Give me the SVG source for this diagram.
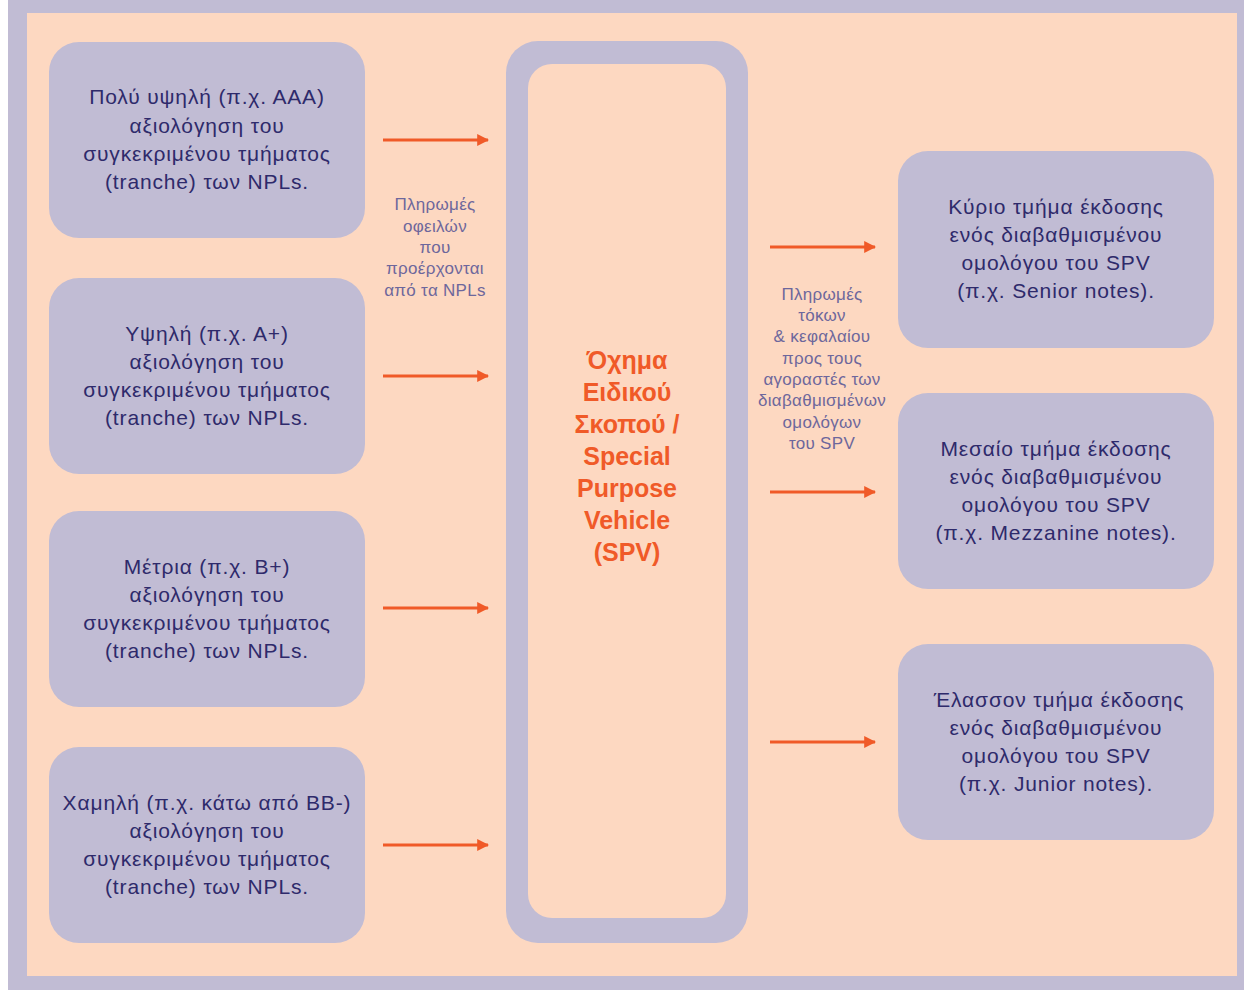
<svg xmlns="http://www.w3.org/2000/svg" width="1244" height="990" viewBox="0 0 1244 990">
<style>
.node{fill:#c1bcd4}
.t{font-family:"Liberation Sans",Arial,sans-serif;font-size:21px;letter-spacing:0.85px;fill:#2e2a6b;text-anchor:middle}
.lbl{font-family:"Liberation Sans",Arial,sans-serif;font-size:17px;letter-spacing:0.3px;fill:#6d679c;text-anchor:middle}
.spv{font-family:"Liberation Sans",Arial,sans-serif;font-size:25px;font-weight:bold;fill:#f05a28;text-anchor:middle}
.arr{stroke:#f05a28;stroke-width:3;fill:none;marker-end:url(#ah)}
</style>
<defs>
<marker id="ah" viewBox="0 0 10 10" refX="9" refY="5" markerWidth="4" markerHeight="4" orient="auto" markerUnits="strokeWidth">
<path d="M0,0 L10,5 L0,10 z" fill="#f05a28"/>
</marker>
</defs>
<rect x="0" y="0" width="1244" height="990" fill="#ffffff"/>
<rect x="8" y="0" width="1236" height="990" fill="#c1bcd4"/>
<rect x="27" y="13" width="1210" height="963" fill="#fdd8c1"/>

<g id="n1"><rect class="node" x="49" y="42" width="316" height="196" rx="30"/>
<text class="t"><tspan x="207" y="104">Πολύ υψηλή (π.χ. ΑΑΑ)</tspan><tspan x="207" y="133">αξιολόγηση του</tspan><tspan x="207" y="161">συγκεκριμένου τμήματος</tspan><tspan x="207" y="189">(tranche) των NPLs.</tspan></text></g>
<g id="n2"><rect class="node" x="49" y="278" width="316" height="196" rx="30"/>
<text class="t"><tspan x="207" y="341">Υψηλή (π.χ. Α+)</tspan><tspan x="207" y="369">αξιολόγηση του</tspan><tspan x="207" y="397">συγκεκριμένου τμήματος</tspan><tspan x="207" y="425">(tranche) των NPLs.</tspan></text></g>
<g id="n3"><rect class="node" x="49" y="511" width="316" height="196" rx="30"/>
<text class="t"><tspan x="207" y="574">Μέτρια (π.χ. Β+)</tspan><tspan x="207" y="602">αξιολόγηση του</tspan><tspan x="207" y="630">συγκεκριμένου τμήματος</tspan><tspan x="207" y="658">(tranche) των NPLs.</tspan></text></g>
<g id="n4"><rect class="node" x="49" y="747" width="316" height="196" rx="30"/>
<text class="t"><tspan x="207" y="810">Χαμηλή (π.χ. κάτω από  ΒΒ-)</tspan><tspan x="207" y="838">αξιολόγηση του</tspan><tspan x="207" y="866">συγκεκριμένου τμήματος</tspan><tspan x="207" y="894">(tranche) των NPLs.</tspan></text></g>

<g id="spv"><rect class="node" x="506" y="41" width="242" height="902" rx="32"/>
<rect x="528" y="64" width="198" height="854" rx="24" fill="#fdd8c1"/>
<text class="spv"><tspan x="627" y="369">Όχημα</tspan><tspan x="627" y="401">Ειδικού</tspan><tspan x="627" y="433">Σκοπού /</tspan><tspan x="627" y="465">Special</tspan><tspan x="627" y="497">Purpose</tspan><tspan x="627" y="529">Vehicle</tspan><tspan x="627" y="561">(SPV)</tspan></text></g>

<g id="r1"><rect class="node" x="898" y="151" width="316" height="197" rx="30"/>
<text class="t"><tspan x="1056" y="214">Κύριο τμήμα έκδοσης</tspan><tspan x="1056" y="242">ενός διαβαθμισμένου</tspan><tspan x="1056" y="270">ομολόγου του SPV</tspan><tspan x="1056" y="298">(π.χ. Senior notes).</tspan></text></g>
<g id="r2"><rect class="node" x="898" y="393" width="316" height="196" rx="30"/>
<text class="t"><tspan x="1056" y="456">Μεσαίο τμήμα έκδοσης</tspan><tspan x="1056" y="484">ενός διαβαθμισμένου</tspan><tspan x="1056" y="512">ομολόγου του SPV</tspan><tspan x="1056" y="540">(π.χ. Mezzanine notes).</tspan></text></g>
<g id="r3"><rect class="node" x="898" y="644" width="316" height="196" rx="30"/>
<text class="t"><tspan x="1059" y="707">Έλασσον τμήμα έκδοσης</tspan><tspan x="1056" y="735">ενός διαβαθμισμένου</tspan><tspan x="1056" y="763">ομολόγου του SPV</tspan><tspan x="1056" y="791">(π.χ. Junior notes).</tspan></text></g>

<g id="connectors">
<line class="arr" x1="383" y1="140" x2="488" y2="140"/>
<line class="arr" x1="383" y1="376" x2="488" y2="376"/>
<line class="arr" x1="383" y1="608" x2="488" y2="608"/>
<line class="arr" x1="383" y1="845" x2="488" y2="845"/>
<line class="arr" x1="770" y1="247" x2="875" y2="247"/>
<line class="arr" x1="770" y1="492" x2="875" y2="492"/>
<line class="arr" x1="770" y1="742" x2="875" y2="742"/>
<text class="lbl"><tspan x="435" y="210">Πληρωμές</tspan><tspan x="435" y="232">οφειλών</tspan><tspan x="435" y="253">που</tspan><tspan x="435" y="274">προέρχονται</tspan><tspan x="435" y="296">από τα NPLs</tspan></text>
<text class="lbl"><tspan x="822" y="300">Πληρωμές</tspan><tspan x="822" y="321">τόκων</tspan><tspan x="822" y="342">&amp; κεφαλαίου</tspan><tspan x="822" y="364">προς τους</tspan><tspan x="822" y="385">αγοραστές των</tspan><tspan x="822" y="406">διαβαθμισμένων</tspan><tspan x="822" y="428">ομολόγων</tspan><tspan x="822" y="449">του SPV</tspan></text>
</g>
</svg>
